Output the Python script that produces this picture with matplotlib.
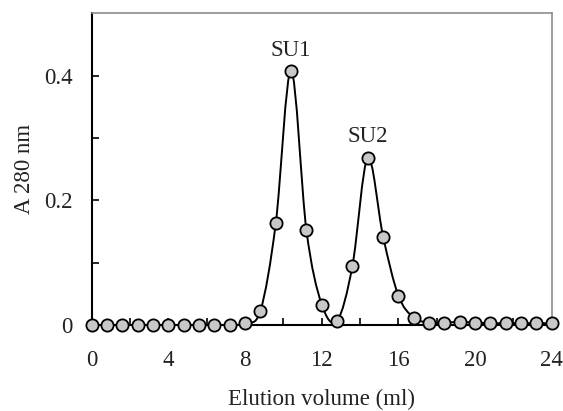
import numpy as np
import matplotlib
matplotlib.use("Agg")
import matplotlib.pyplot as plt
from matplotlib.path import Path
from matplotlib.patches import PathPatch
from matplotlib.ticker import MultipleLocator, FixedLocator

# elution data, one fraction every 0.8 ml
volume = [0.0, 0.8, 1.6, 2.4, 3.2, 4.0, 4.8, 5.6, 6.4, 7.2,
          8.0, 8.8, 9.6, 10.4, 11.2, 12.0, 12.8, 13.6, 14.4, 15.2,
          16.0, 16.8, 17.6, 18.4, 19.2, 20.0, 20.8, 21.6, 22.4, 23.2, 24.0]
a280 = [0.0, 0.0, 0.0, 0.0, 0.0, 0.0, 0.0, 0.0, 0.0, 0.0,
        0.003, 0.023, 0.163, 0.408, 0.152, 0.033, 0.007, 0.095, 0.268, 0.142,
        0.047, 0.012, 0.004, 0.004, 0.005, 0.004, 0.003, 0.003, 0.003, 0.003, 0.003]
peak_labels = ["SU1", "SU2"]
peak_x = [10.4, 14.4]
peak_y = [0.431, 0.294]

plt.rcParams.update({"font.family": ["Liberation Serif", "DejaVu Serif"],
                     "font.size": 16.5, "text.color": "#222222",
                     "xtick.labelcolor": "#222222", "ytick.labelcolor": "#222222",
                     "axes.labelcolor": "#222222"})

fig = plt.figure(figsize=(5.63, 4.11), dpi=100)
ax = fig.add_axes([0.163, 0.209, 0.817, 0.759])

# smooth curve through the points (Catmull-Rom as cubic Bezier)
x = np.array(volume)
y = np.array(a280)
verts = [(x[0], y[0])]
codes = [Path.MOVETO]
n = len(x)
for i in range(n - 1):
    p0 = (x[max(i - 1, 0)], y[max(i - 1, 0)])
    p1 = (x[i], y[i])
    p2 = (x[i + 1], y[i + 1])
    p3 = (x[min(i + 2, n - 1)], y[min(i + 2, n - 1)])
    c1 = (p1[0] + (p2[0] - p0[0]) / 6, p1[1] + (p2[1] - p0[1]) / 6)
    c2 = (p2[0] - (p3[0] - p1[0]) / 6, p2[1] - (p3[1] - p1[1]) / 6)
    verts += [c1, c2, p2]
    codes += [Path.CURVE4] * 3
curve = PathPatch(Path(verts, codes), facecolor="none", edgecolor="black",
                  linewidth=1.4, zorder=3)
ax.add_patch(curve)

ax.plot(volume, a280, linestyle="none", marker="o", markersize=8.8,
        markerfacecolor="#c8c8c8", markeredgecolor="black",
        markeredgewidth=1.3, clip_on=False, zorder=4)

for lab, px, py in zip(peak_labels, peak_x, peak_y):
    ax.text(px, py, lab, ha="center", va="baseline")

ax.set_xlim(0, 24)
ax.set_ylim(0, 0.5)
ax.xaxis.set_major_locator(MultipleLocator(4))
ax.xaxis.set_minor_locator(MultipleLocator(2))
ax.yaxis.set_major_locator(FixedLocator([0, 0.2, 0.4]))
ax.yaxis.set_minor_locator(FixedLocator([0.1, 0.3]))
ax.set_yticklabels(["0", "0.2", "0.4"])
ax.tick_params(which="both", direction="in", width=1.2, color="black")
ax.tick_params(which="major", length=5)
ax.tick_params(which="minor", length=5)
ax.tick_params(axis="x", pad=18)
ax.tick_params(axis="y", pad=14)

for s in ["left", "bottom"]:
    ax.spines[s].set_linewidth(1.5)
    ax.spines[s].set_color("black")
for s in ["top", "right"]:
    ax.spines[s].set_linewidth(1.2)
    ax.spines[s].set_color("#8c8c8c")

ax.set_xlabel("Elution volume (ml)", labelpad=13)
ax.set_ylabel("A 280 nm", labelpad=6)

fig.savefig("out.png", dpi=100)
